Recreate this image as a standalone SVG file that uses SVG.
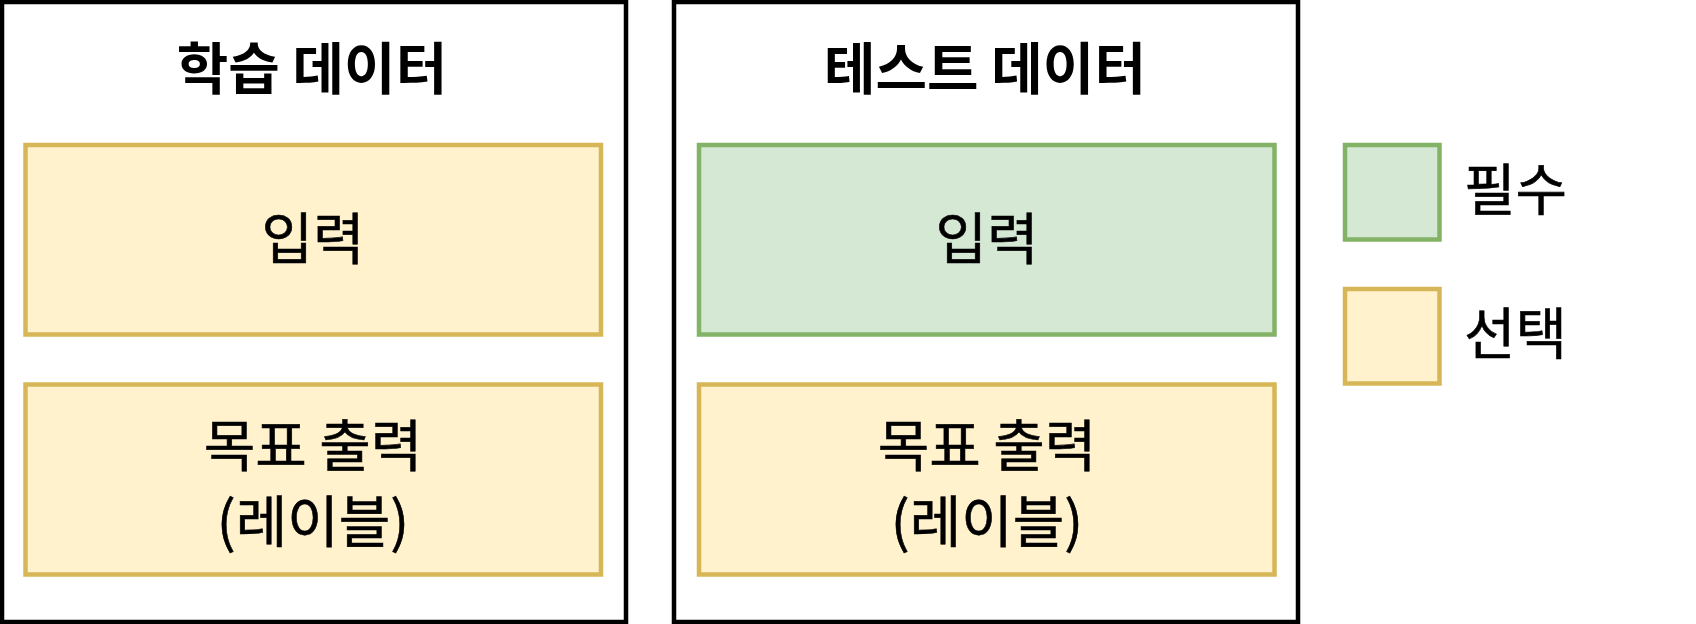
<svg xmlns="http://www.w3.org/2000/svg" width="1696" height="624" viewBox="0 0 1696 624">
<style>
.panel{fill:#ffffff;stroke:#000000;stroke-width:4.5}
.opt{fill:#fff2cc;stroke:#d6b656;stroke-width:4.5}
.req{fill:#d5e8d4;stroke:#82b366;stroke-width:4.5}
.title{font-family:"Noto Sans CJK KR","Noto Sans",sans-serif;font-weight:bold;font-size:56px;fill:#000;text-anchor:middle}
.lbl{font-family:"Noto Sans CJK KR","Noto Sans",sans-serif;font-weight:normal;font-size:56px;fill:#000;text-anchor:middle;stroke:#000;stroke-width:0.6}
</style>
<rect width="1696" height="624" fill="#ffffff"/>
<g id="train">
<rect class="panel" x="2" y="2" width="624" height="620"/>
<text class="title" x="312" y="89">학습 데이터</text>
</g>
<g id="train-input">
<rect class="opt" x="25.5" y="145" width="575.5" height="189.5"/>
<text class="lbl" x="313" y="259">입력</text>
</g>
<g id="train-target">
<rect class="opt" x="25.5" y="384.5" width="575.5" height="190"/>
<text class="lbl" x="313" y="466">목표 출력</text>
<text class="lbl" x="313" y="542">(레이블)</text>
</g>
<g id="test">
<rect class="panel" x="674" y="2" width="624" height="620"/>
<text class="title" x="985" y="89">테스트 데이터</text>
</g>
<g id="test-input">
<rect class="req" x="699" y="145" width="575.5" height="189.5"/>
<text class="lbl" x="987" y="259">입력</text>
</g>
<g id="test-target">
<rect class="opt" x="699" y="384.5" width="575.5" height="190"/>
<text class="lbl" x="987" y="466">목표 출력</text>
<text class="lbl" x="987" y="542">(레이블)</text>
</g>
<g id="legend-required">
<rect class="req" x="1345" y="145" width="94.5" height="94.5"/>
<text class="lbl" x="1464" y="210" style="text-anchor:start">필수</text>
</g>
<g id="legend-optional">
<rect class="opt" x="1345" y="289" width="94.5" height="94.5"/>
<text class="lbl" x="1464" y="354" style="text-anchor:start">선택</text>
</g>
<g id="connectors"></g>
</svg>
